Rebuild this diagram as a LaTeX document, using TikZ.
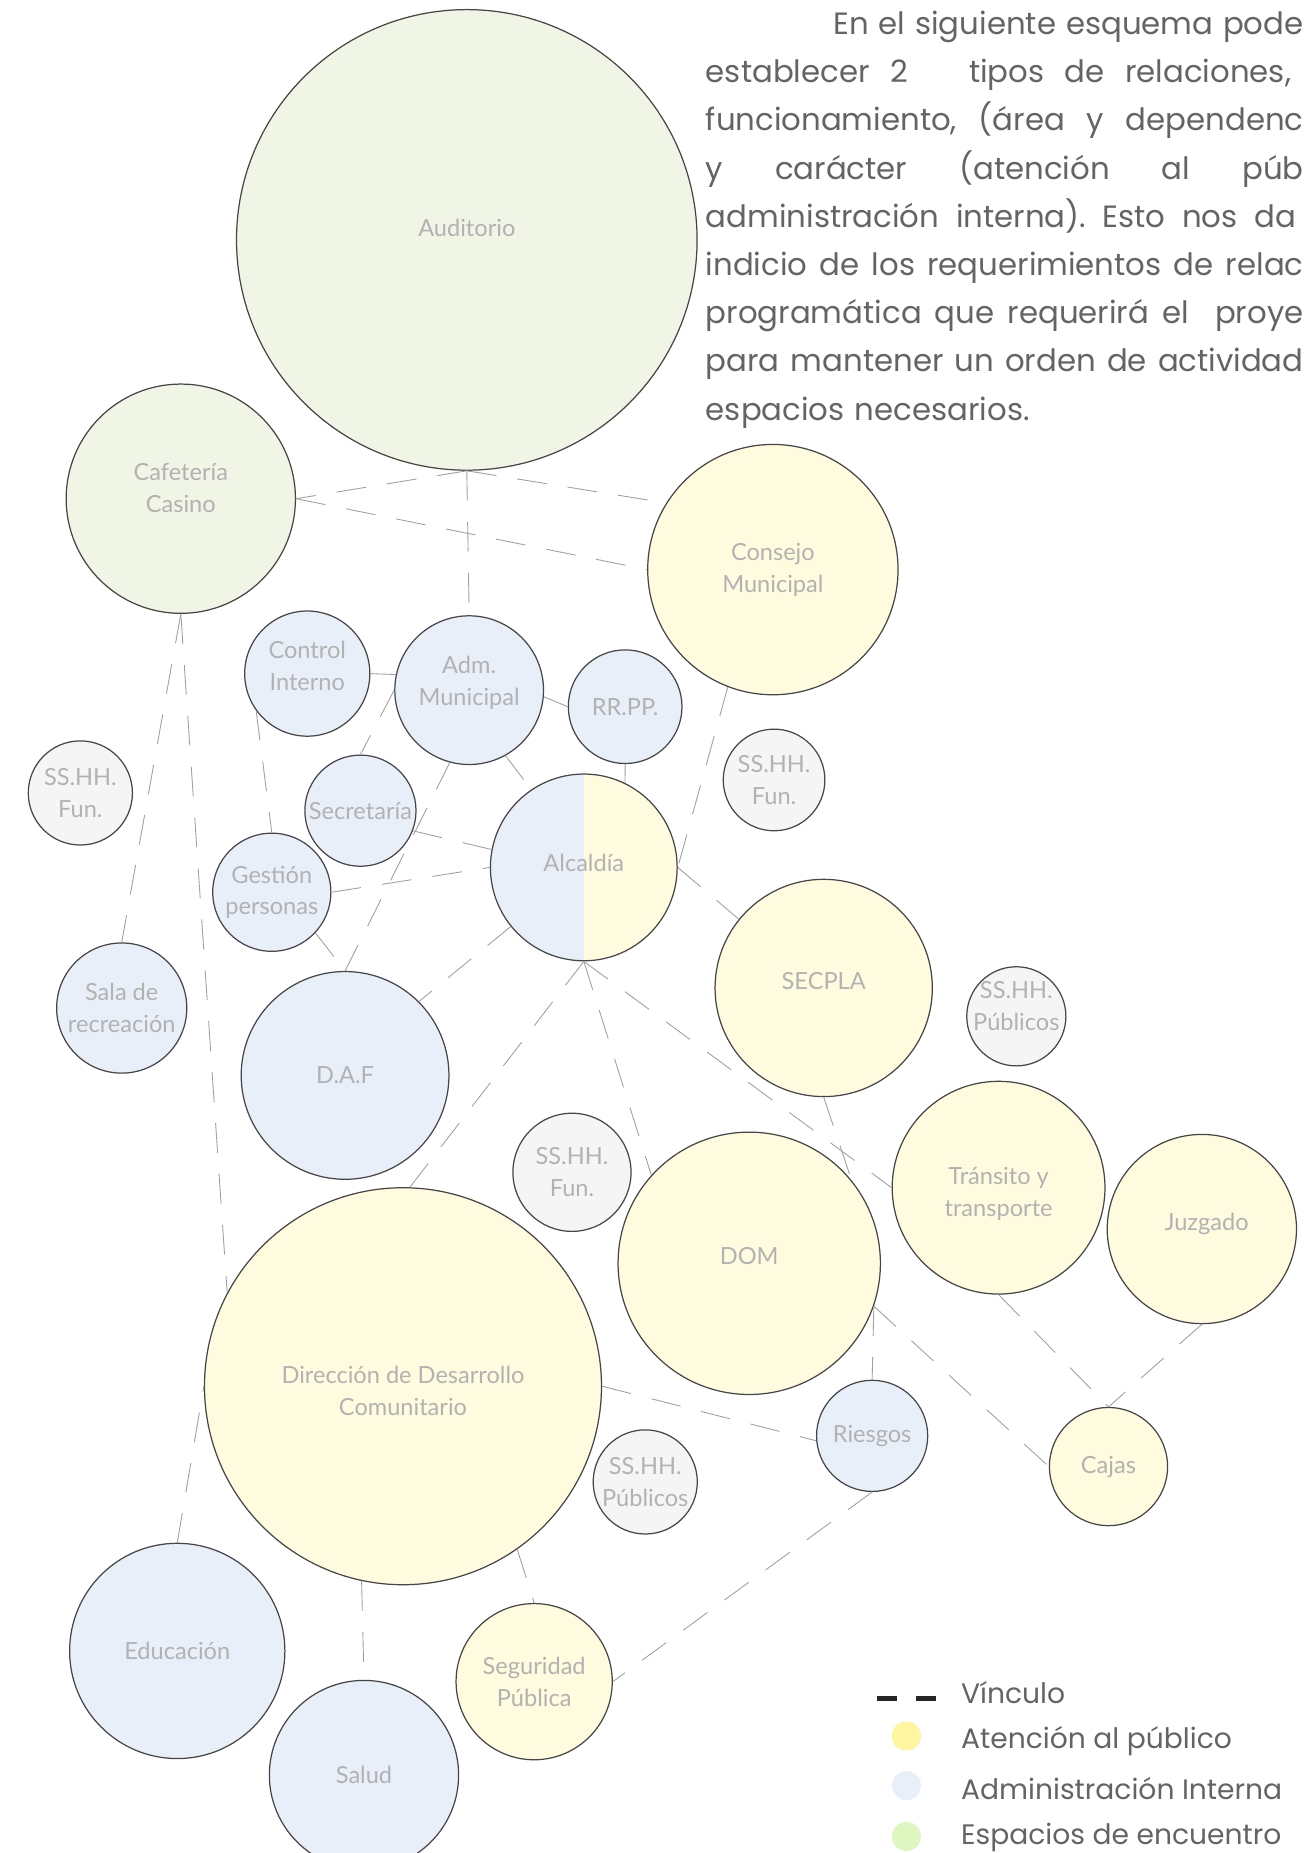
\documentclass[tikz,border=0pt]{standalone}
\usepackage{fontspec}
\setmainfont{Poppins}
\newfontfamily\labelfont{Lato}
\usepackage{xcolor}
\definecolor{greenfill}{RGB}{241,245,229}
\definecolor{yellowfill}{RGB}{254,251,222}
\definecolor{bluefill}{RGB}{232,239,249}
\definecolor{grayfill}{RGB}{245,245,245}
\definecolor{labelgray}{RGB}{178,178,178}
\definecolor{linkgray}{RGB}{160,160,160}
\definecolor{rimgray}{RGB}{70,70,70}
\definecolor{textgray}{RGB}{100,100,100}
\definecolor{keyyellow}{RGB}{255,245,158}
\definecolor{keyblue}{RGB}{232,239,249}
\definecolor{keygreen}{RGB}{222,247,192}
\tikzstyle{bubble} = [circle, draw=rimgray, line width=0.7pt, inner sep=0pt]
\tikzstyle{meet} = [bubble, fill=greenfill]
\tikzstyle{public} = [bubble, fill=yellowfill]
\tikzstyle{internal} = [bubble, fill=bluefill]
\tikzstyle{service} = [bubble, fill=grayfill]
\tikzstyle{tag} = [font=\labelfont\fontsize{13.4}{18}\selectfont, text=labelgray, align=center]
\tikzstyle{link} = [draw=linkgray, line width=0.5pt, dash pattern=on 17pt off 12pt]
\tikzstyle{keytext} = [font=\fontsize{16}{19}\selectfont, text=textgray, anchor=west, inner sep=0pt]
\newcommand{\introline}[1]{\makebox[11.94cm][l]{#1}}

\begin{document}
\begin{tikzpicture}[x=0.0236cm, y=-0.0236cm]
    \useasboundingbox (0,0) rectangle (1103,1568);
    % Place nodes
    \node [meet, minimum size=9.20cm, label={[tag, yshift=6.7pt]center:Auditorio}] (aud) at (395,203) {};
    \node [meet, minimum size=4.58cm, label={[tag, yshift=6pt]center:Cafetería\\Casino}] (caf) at (153,422) {};
    \node [public, minimum size=5.00cm, label={[tag]center:Consejo\\Municipal}] (con) at (654,482) {};
    \node [internal, minimum size=2.50cm, label={[tag, yshift=4.5pt]center:Control\\Interno}] (ctrl) at (260,570) {};
    \node [internal, minimum size=2.97cm, label={[tag, yshift=4pt]center:Adm.\\Municipal}] (adm) at (397,584) {};
    \node [internal, minimum size=2.27cm, label={[tag]center:RR.PP.}] (rrpp) at (529,598) {};
    \node [service, minimum size=2.03cm, label={[tag]center:SS.HH.\\Fun.}] (funa) at (655,660) {};
    \node [service, minimum size=2.08cm, label={[tag]center:SS.HH.\\Fun.}] (funb) at (68,671) {};
    \node [internal, minimum size=2.22cm, label={[tag]center:Secretaría}] (sec) at (305,686) {};
    \node [internal, minimum size=3.73cm, path picture={\fill[yellowfill] (path picture bounding box.north) rectangle (path picture bounding box.south east);}, label={[tag, yshift=2.7pt]center:Alcaldía}] (alc) at (494,734) {};
    \node [internal, minimum size=2.36cm, label={[tag]center:Gestión\\personas}] (ges) at (230,755) {};
    \node [public, minimum size=4.34cm, label={[tag, yshift=4pt]center:SECPLA}] (secpla) at (697,836) {};
    \node [service, minimum size=1.98cm, label={[tag, yshift=6pt]center:SS.HH.\\Públicos}] (puba) at (860,860) {};
    \node [internal, minimum size=2.60cm, label={[tag]center:Sala de\\recreación}] (sala) at (103,853) {};
    \node [internal, minimum size=4.15cm, label={[tag]center:D.A.F}] (daf) at (292,910) {};
    \node [service, minimum size=2.36cm, label={[tag]center:SS.HH.\\Fun.}] (func) at (484,992) {};
    \node [public, minimum size=5.24cm, label={[tag, yshift=4pt]center:DOM}] (dom) at (634,1069) {};
    \node [public, minimum size=4.25cm, label={[tag, yshift=-3.4pt]center:Tránsito y\\transporte}] (tra) at (845,1005) {};
    \node [public, minimum size=3.78cm, label={[tag, yshift=2.7pt, xshift=2.7pt]center:Juzgado}] (juz) at (1017,1040) {};
    \node [public, minimum size=7.93cm, label={[tag, yshift=-2.7pt]center:Dirección de Desarrollo\\Comunitario}] (ddc) at (341,1173) {};
    \node [internal, minimum size=2.22cm, label={[tag]center:Riesgos}] (rie) at (738,1215) {};
    \node [service, minimum size=2.08cm, label={[tag]center:SS.HH.\\Públicos}] (pubb) at (546,1254) {};
    \node [public, minimum size=2.36cm, label={[tag]center:Cajas}] (caj) at (938,1241) {};
    \node [internal, minimum size=4.30cm, label={[tag]center:Educación}] (edu) at (150,1397) {};
    \node [public, minimum size=3.12cm, label={[tag]center:Seguridad\\Pública}] (seg) at (452,1423) {};
    \node [internal, minimum size=3.78cm, label={[tag]center:Salud}] (salud) at (308,1502) {};
    % Draw edges
    \path [link] (aud.south) -- (caf.east);
    \path [link] (aud.south) -- (adm.north);
    \path [link] (aud.south) -- (con.148);
    \path [link] (caf.east) -- (con.west);
    \path [link] (caf.south) -- (sala.north);
    \path [link] (caf.south) -- (ddc.152);
    \path [link] (edu.north) -- (ddc.180);
    \path [link] (ctrl.east) -- (adm.168);
    \path [link] (ctrl.216) -- (ges.north);
    \path [link] (adm.west) -- (sec.north);
    \path [link] (adm.255) -- (daf.north);
    \path [link] (ges.-43) -- (daf.north);
    \path [link] (adm.-5) -- (rrpp.west);
    \path [link] (adm.-61) -- (alc.124);
    \path [link] (rrpp.south) -- (alc.64);
    \path [link] (con.249) -- (alc.east);
    \path [link] (sec.-21) -- (alc.169);
    \path [link] (ges.east) -- (alc.west);
    \path [link] (alc.east) -- (secpla.141);
    \path [link] (alc.219) -- (daf.45);
    \path [link] (alc.south) -- (ddc.88);
    \path [link] (alc.south) -- (dom.138);
    \path [link] (alc.south) -- (tra.west);
    \path [link] (secpla.south) -- (dom.39);
    \path [link] (dom.-19) -- (rie.north);
    \path [link] (dom.-19) -- (caj.west);
    \path [link] (tra.south) -- (caj.north);
    \path [link] (juz.south) -- (caj.north);
    \path [link] (ddc.east) -- (rie.185);
    \path [link] (rie.south) -- (seg.east);
    \path [link] (ddc.-102) -- (salud.north);
    \path [link] (ddc.-55) -- (seg.north);
    % Intro text
    \node [anchor=north west, inner sep=0pt, text width=11.94cm, align=left, text=textgray, font=\fontsize{17.5}{27.4}\selectfont] (intro) at (597,9) {%
        \hspace*{2.55cm}\makebox[9.39cm][l]{En\hfill el\hfill siguiente\hfill esquema\hfill pode}\\
        \introline{establecer\hfill 2\hspace{0pt plus 3fill}tipos\hfill de\hfill relaciones,\hspace*{0.25cm}}\\
        \introline{funcionamiento,\hfill (área\hfill y\hfill dependenc}\\
        \introline{y\hfill carácter\hfill (atención\hfill al\hfill púb}\\
        \introline{administración\hfill interna).\hfill Esto\hfill nos\hfill da\hspace*{0.15cm}}\\
        \introline{indicio\hfill de\hfill los\hfill requerimientos\hfill de\hfill relac}\\
        \introline{programática\hfill que\hfill requerirá\hfill el\hspace{0pt plus 2fill}proye}\\
        \introline{para\hfill mantener\hfill un\hfill orden\hfill de\hfill actividad}\\
        espacios necesarios.};
    % Legend
    \draw [line width=2.7pt, black!85] (742,1437) -- (759,1437) (775,1437) -- (792,1437);
    \fill [keyyellow] (767,1469) circle (0.29cm);
    \fill [keyblue] (767,1511) circle (0.29cm);
    \fill [keygreen] (767,1554) circle (0.29cm);
    \node [keytext] (kvin) at (813,1432) {Vínculo};
    \node [keytext] (katen) at (813,1473) {Atención al público};
    \node [keytext] (kadm) at (813,1513) {Administración Interna};
    \node [keytext] (kesp) at (813,1555) {Espacios de encuentro};
\end{tikzpicture}
\end{document}
